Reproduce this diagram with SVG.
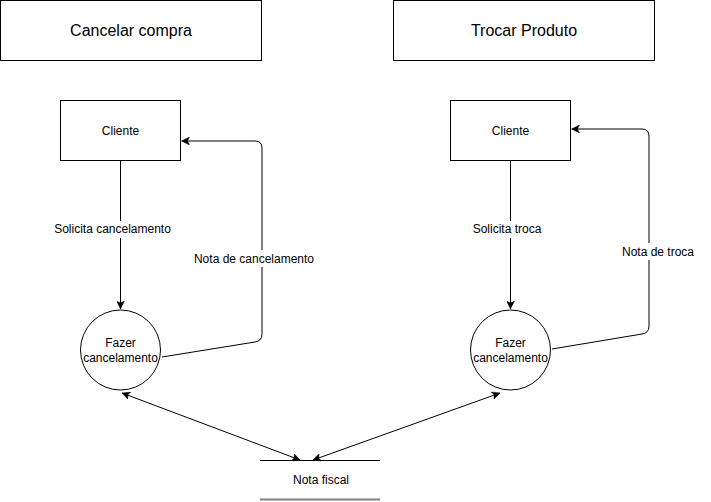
<svg xmlns="http://www.w3.org/2000/svg" width="711" height="502" viewBox="0 0 711 502">
<defs>
<style>
.box{fill:#fff;stroke:#000;stroke-width:1}
.t16{font-family:"Liberation Sans",Arial,sans-serif;font-size:16px;fill:#000;text-anchor:middle;dominant-baseline:central}
.t12{font-family:"Liberation Sans",Arial,sans-serif;font-size:12px;fill:#000;text-anchor:middle;dominant-baseline:central}
.edge{fill:none;stroke:#000;stroke-width:1}
.lblbg{fill:#fff;stroke:none}
</style>
<marker id="arr" viewBox="0 0 10 10" refX="10" refY="5" markerWidth="8" markerHeight="8" markerUnits="userSpaceOnUse" orient="auto-start-reverse">
<path d="M0,0 L10,5 L0,10 L2.5,5 z" fill="#000" stroke="#000" stroke-width="0.5"/>
</marker>
</defs>
<rect width="711" height="502" fill="#fff"/>
<g id="connectors">
<path class="edge" d="M120.5,160.5 L120.5,309" marker-end="url(#arr)"/>
<rect class="lblbg" x="51" y="221" width="123" height="17"/>
<text class="t12" x="112.5" y="229">Solicita cancelamento</text>
<path class="edge" d="M162,357 L255,342 Q262,341 262,334 L262,148 Q262,141 255,141 L181.5,141" marker-end="url(#arr)"/>
<rect class="lblbg" x="191" y="250" width="126" height="17"/>
<text class="t12" x="254" y="259">Nota de cancelamento</text>
<path class="edge" d="M510.5,160.5 L510.5,309" marker-end="url(#arr)"/>
<rect class="lblbg" x="471" y="221" width="72" height="17"/>
<text class="t12" x="507" y="229">Solicita troca</text>
<path class="edge" d="M552,349 L642,334 Q649,333 649,326 L649,136 Q649,129 642,129 L571.5,129" marker-end="url(#arr)"/>
<rect class="lblbg" x="620" y="243" width="77" height="17"/>
<text class="t12" x="658" y="251.5">Nota de troca</text>
<path class="edge" d="M122,393 L300,460" marker-start="url(#arr)" marker-end="url(#arr)"/>
<path class="edge" d="M313,460 L500,393" marker-start="url(#arr)" marker-end="url(#arr)"/>
</g>
<g id="title-cancelar">
<rect class="box" x="0.5" y="0.5" width="261" height="60"/>
<text class="t16" x="131" y="30.5">Cancelar compra</text>
</g>
<g id="title-trocar">
<rect class="box" x="393.5" y="0.5" width="261" height="60"/>
<text class="t16" x="524" y="30.5">Trocar Produto</text>
</g>
<g id="cliente-1">
<rect class="box" x="60.5" y="100.5" width="120" height="60"/>
<text class="t12" x="120.5" y="130.5">Cliente</text>
</g>
<g id="cliente-2">
<rect class="box" x="450.5" y="100.5" width="120" height="60"/>
<text class="t12" x="510.5" y="130.5">Cliente</text>
</g>
<g id="fazer-1">
<circle class="box" cx="120.5" cy="350" r="40"/>
<text class="t12" x="120.5" y="343">Fazer</text>
<text class="t12" x="120.5" y="357.5">cancelamento</text>
</g>
<g id="fazer-2">
<circle class="box" cx="510.5" cy="350" r="40"/>
<text class="t12" x="510.5" y="343">Fazer</text>
<text class="t12" x="510.5" y="357.5">cancelamento</text>
</g>
<g id="nota-fiscal">
<line x1="260" y1="460.5" x2="380" y2="460.5" stroke="#000" stroke-width="1"/>
<line x1="260" y1="499.5" x2="380" y2="499.5" stroke="#808080" stroke-width="2"/>
<text class="t12" x="321" y="480">Nota fiscal</text>
</g>
</svg>
